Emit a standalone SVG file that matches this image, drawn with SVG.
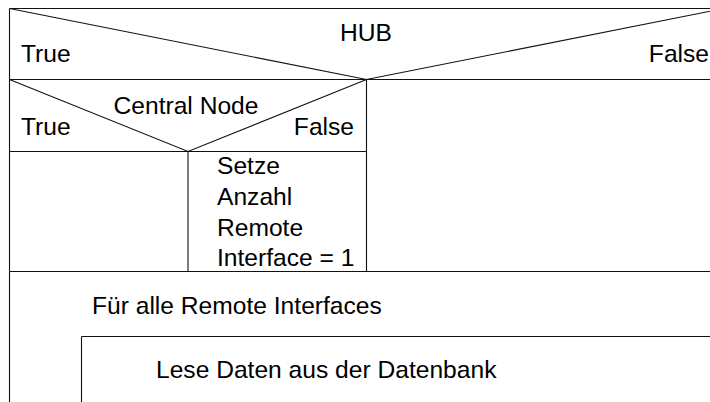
<svg xmlns="http://www.w3.org/2000/svg" width="710" height="402" viewBox="0 0 710 402">
  <style>
    .ln { stroke: #111; stroke-width: 1.1; fill: none; }
    .tx { font-family: "Liberation Sans", Arial, sans-serif; font-size: 24.6px; fill: #000; }
    .mid { text-anchor: middle; }
    .end { text-anchor: end; }
  </style>
  <rect x="0" y="0" width="710" height="402" fill="#fff"/>

  <!-- if HUB -->
  <g id="hub">
    <path class="ln" d="M9.5 8.5 H724 M9.5 8.5 V79.5 M9.5 79.5 H724 M9.5 8.5 L366.5 79.5 L724 8.5"/>
    <text class="tx mid" x="366" y="41">HUB</text>
    <text class="tx" x="21" y="62">True</text>
    <text class="tx end" x="709" y="62">False</text>
  </g>

  <!-- nested if: Central Node (True branch of HUB) -->
  <g id="central-node">
    <path class="ln" d="M9.5 79.5 V271.5 M366.5 79.5 V271.5 M9.5 151.5 H366.5 M9.5 79.5 L188 151.5 L366.5 79.5 M188 151.5 V271.5"/>
    <text class="tx mid" x="186" y="114">Central Node</text>
    <text class="tx" x="21" y="135">True</text>
    <text class="tx end" x="354" y="135">False</text>
  </g>

  <!-- action: False branch of Central Node -->
  <g id="setze-anzahl">
    <text class="tx" x="217" y="174">Setze</text>
    <text class="tx" x="217" y="205">Anzahl</text>
    <text class="tx" x="217" y="236">Remote</text>
    <text class="tx" x="217" y="266">Interface = 1</text>
  </g>

  <!-- loop over all remote interfaces -->
  <g id="loop-remote-interfaces">
    <path class="ln" d="M9.5 271.5 H724 M9.5 271.5 V402"/>
    <text class="tx" x="92" y="314">Für alle Remote Interfaces</text>
  </g>

  <!-- loop body -->
  <g id="lese-daten">
    <path class="ln" d="M81.5 336.5 H724 M81.5 336.5 V402"/>
    <text class="tx" x="156" y="378">Lese Daten aus der Datenbank</text>
  </g>
</svg>
